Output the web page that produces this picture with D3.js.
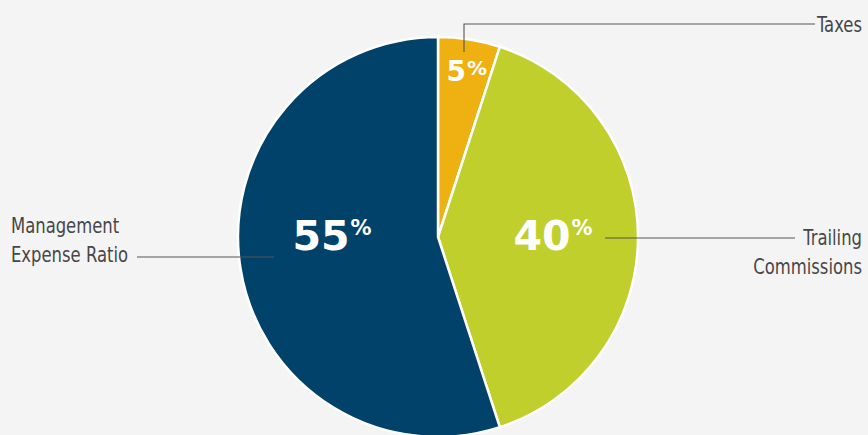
<!DOCTYPE html>
<html>
<head>
<meta charset="utf-8">
<script src="https://cdn.jsdelivr.net/npm/d3@7"></script>
<style>
  html, body { margin: 0; padding: 0; background: #f4f4f4; }
  svg { display: block; }
  .lbl { font-family: "DejaVu Sans Condensed", sans-serif; font-size: 22px; fill: #474747; }
  .pct { font-family: "DejaVu Sans", sans-serif; font-weight: bold; fill: #fff; }
</style>
</head>
<body>
<svg id="chart" width="868" height="435"></svg>
<script>
const categories = ["Taxes", "Trailing Commissions", "Management Expense Ratio"];
const values = [5, 40, 55];
const colors = ["#eeb111", "#c0cf2b", "#01426a"];

const width = 868, height = 435;
const cx = 438, cy = 237, radius = 200;

const svg = d3.select("#chart");
const g = svg.append("g").attr("transform", `translate(${cx},${cy})`);

const pie = d3.pie().sort(null).value(d => d)(values);
const arc = d3.arc().innerRadius(0).outerRadius(radius);

g.selectAll("path.slice")
  .data(pie)
  .join("path")
  .attr("class", "slice")
  .attr("d", arc)
  .attr("fill", (d, i) => colors[i])
  .attr("stroke", "#fff")
  .attr("stroke-width", 2.5);

// percentage labels: angle (deg from top, clockwise) and radius of label centre
const labelAngle = [9.8, 89, 271];
const labelR = [169, 115, 106];
const numSize = [28, 41, 41];
const pctSize = [20, 21, 21];
const pctShift = [-6, -15, -15];
function polar(deg, r) {
  const a = deg * Math.PI / 180;
  return [Math.sin(a) * r, -Math.cos(a) * r];
}

pie.forEach((d, i) => {
  const [x, y] = polar(labelAngle[i], labelR[i]);
  const t = g.append("text")
    .attr("class", "pct")
    .attr("x", x)
    .attr("y", y + numSize[i] * 0.365)
    .attr("text-anchor", "middle")
    .style("font-size", numSize[i] + "px");
  t.append("tspan").text(d.value);
  t.append("tspan")
    .attr("dy", pctShift[i])
    .attr("dx", 1)
    .style("font-size", pctSize[i] + "px")
    .text("%");
});

// leader lines + category labels
const line = svg.append("g")
  .attr("fill", "none")
  .attr("stroke", "#555")
  .attr("stroke-width", 1.1);

function label(x, y, lines, anchor) {
  const t = svg.append("text").attr("class", "lbl")
    .attr("transform", `translate(${x},${y}) scale(0.83,1)`)
    .attr("text-anchor", anchor);
  lines.forEach((s, i) => {
    t.append("tspan").attr("x", 0).attr("y", i * 29).text(s);
  });
}

// Taxes
line.append("path").attr("d", "M464,52V24H815");
label(862, 32, ["Taxes"], "end");

// Trailing Commissions
line.append("path").attr("d", "M605,238H795");
label(862, 245, ["Trailing", "Commissions"], "end");

// Management Expense Ratio
line.append("path").attr("d", "M137,257H274");
label(11, 233, ["Management", "Expense Ratio"], "start");
</script>
</body>
</html>
